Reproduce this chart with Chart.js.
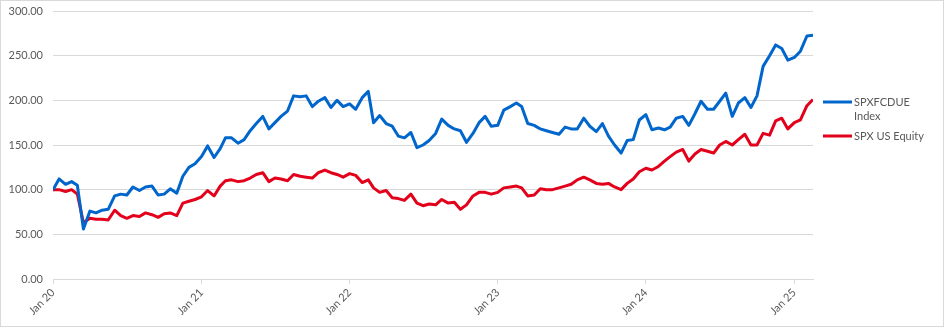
<!DOCTYPE html>
<html>
<head>
<meta charset="utf-8">
<title>SPXFCDUE vs SPX</title>
<script src="https://cdn.jsdelivr.net/npm/chart.js@4.4.1/dist/chart.umd.min.js"></script>
<style>
    html, body { margin: 0; padding: 0; background: #fff; }
    #frame { position: absolute; left: 0; top: 0; width: 944px; height: 327px; border: 1px solid #d9d9d9; box-sizing: border-box; }
    #chart { position: absolute; left: 0; top: 0; }
</style>
</head>
<body>
<div id="frame"></div>
<canvas id="chart" width="946" height="329"></canvas>
<script>
// rebased to 100 at Jan 2020, sampled on the 1st and 16th of each month
const blueLabel = "SPXFCDUE Index";
const redLabel = "SPX US Equity";

const blueValues = [
    100, 112, 106, 109, 105, 56, 76, 74, 77, 78, 93, 95, 94, 103, 99, 103, 104, 94, 95, 101, 96, 115, 125, 129,   // 2020
    137, 149, 136, 146, 158, 158, 152, 156, 166, 174, 182, 168, 175, 182, 188, 205, 204, 205, 193, 199, 203, 192, 200, 193,   // 2021
    196, 190, 203, 210, 175, 183, 174, 171, 160, 158, 164, 147, 150, 155, 163, 179, 172, 168, 166, 153, 163, 175, 182, 171,   // 2022
    172, 189, 193, 197, 193, 174, 172, 168, 166, 164, 162, 170, 168, 168, 180, 171, 165, 174, 160, 150, 141, 155, 156, 178,   // 2023
    184, 167, 169, 167, 170, 180, 182, 172, 185, 199, 190, 190, 199, 208, 182, 197, 203, 192, 205, 238, 250, 262, 258, 245,   // 2024
    248, 255, 272, 273   // 2025
];

const redValues = [
    100, 100, 98, 100, 95, 63, 68, 67, 67, 66, 77, 71, 68, 71, 70, 74, 72, 69, 73, 74, 71, 85, 87, 89,   // 2020
    92, 99, 93, 104, 110, 111, 109, 110, 113, 117, 119, 109, 113, 112, 110, 117, 115, 114, 113, 119, 122, 119, 117, 114,   // 2021
    118, 116, 108, 111, 102, 97, 99, 91, 90, 88, 95, 85, 82, 84, 83, 89, 85, 86, 78, 83, 93, 97, 97, 95,   // 2022
    97, 102, 103, 104, 102, 93, 94, 101, 100, 100, 102, 104, 106, 111, 114, 111, 107, 106, 107, 103, 100, 107, 112, 120,   // 2023
    124, 122, 126, 132, 137, 142, 145, 132, 140, 145, 143, 141, 150, 154, 150, 156, 162, 150, 150, 163, 161, 177, 180, 168,   // 2024
    175, 178, 194, 201   // 2025
];

const tickYears = [2020, 2021, 2022, 2023, 2024, 2025];
const yTicks = [0, 50, 100, 150, 200, 250, 300];

const DAY = 86400000;
const origin = Date.UTC(2020, 0, 1);

// 1st / 16th of each month, as days since 1 Jan 2020
const sampleDays = blueValues.map(function(v, i){
    let year = 2020 + Math.floor(i / 24);
    let month = Math.floor((i % 24) / 2);
    let day = (i % 2) ? 16 : 1;
    return (Date.UTC(year, month, day) - origin) / DAY;
});
const yearDays = tickYears.map(y => (Date.UTC(y, 0, 1) - origin) / DAY);

const textColor = "#595959";
const gridColor = "#d9d9d9";
const font = {family: "Lato", size: 11};

// legend drawn by hand so the long label can wrap onto two lines
const sideLegend = {
    id: "sideLegend",
    afterDraw: function(chart){
        let ctx = chart.ctx;
        ctx.save();
        ctx.font = font.size + "px " + font.family;
        ctx.fillStyle = textColor;
        ctx.textBaseline = "middle";
        let y = 102;
        chart.data.datasets.forEach(function(ds){
            ctx.strokeStyle = ds.borderColor;
            ctx.lineWidth = 3;
            ctx.beginPath();
            ctx.moveTo(823, y);
            ctx.lineTo(852, y);
            ctx.stroke();
            let lines = [];
            let cur = "";
            ds.label.split(" ").forEach(function(w){
                let test = cur ? cur + " " + w : w;
                if (cur && ctx.measureText(test).width > 72) {
                    lines.push(cur);
                    cur = w;
                } else cur = test;
            });
            lines.push(cur);
            lines.forEach(function(line, k){
                ctx.fillText(line, 854, y + k * 14);
            });
            y += lines.length * 14 + 6;
        });
        ctx.restore();
    }
};

new Chart(document.getElementById("chart"), {
    type: "line",
    data: {
        datasets: [
            {
                label: blueLabel,
                data: sampleDays.map((x, i) => ({x: x, y: blueValues[i]})),
                borderColor: "#0066cc",
                borderWidth: 3,
                pointRadius: 0,
                tension: 0,
                borderJoinStyle: "round"
            },
            {
                label: redLabel,
                data: sampleDays.map((x, i) => ({x: x, y: redValues[i]})),
                borderColor: "#e3001b",
                borderWidth: 3,
                pointRadius: 0,
                tension: 0,
                borderJoinStyle: "round"
            }
        ]
    },
    options: {
        responsive: false,
        animation: false,
        layout: {padding: {top: 11, right: 133, bottom: 0, left: 8}},
        plugins: {legend: {display: false}, tooltip: {enabled: false}},
        scales: {
            x: {
                type: "linear",
                min: 0,
                max: sampleDays[sampleDays.length - 1],
                afterBuildTicks: function(scale){
                    scale.ticks = yearDays.map(v => ({value: v}));
                },
                afterFit: function(scale){
                    scale.height = 50;
                },
                grid: {drawOnChartArea: false, drawTicks: true, tickLength: 5, color: gridColor},
                border: {display: true, color: gridColor},
                ticks: {
                    minRotation: 45,
                    maxRotation: 45,
                    padding: 2,
                    color: textColor,
                    font: font,
                    callback: function(value){
                        let idx = yearDays.indexOf(value);
                        return idx < 0 ? null : "Jan " + String(tickYears[idx]).slice(2);
                    }
                }
            },
            y: {
                min: 0,
                max: 300,
                afterBuildTicks: function(scale){
                    scale.ticks = yTicks.map(v => ({value: v}));
                },
                afterFit: function(scale){
                    scale.width = 45;
                    scale.paddingTop = 0;
                    scale.paddingBottom = 0;
                },
                grid: {color: gridColor, drawTicks: false},
                border: {display: false},
                ticks: {
                    padding: 10,
                    color: textColor,
                    font: font,
                    callback: v => v.toFixed(2)
                }
            }
        }
    },
    plugins: [sideLegend]
});
</script>
</body>
</html>
